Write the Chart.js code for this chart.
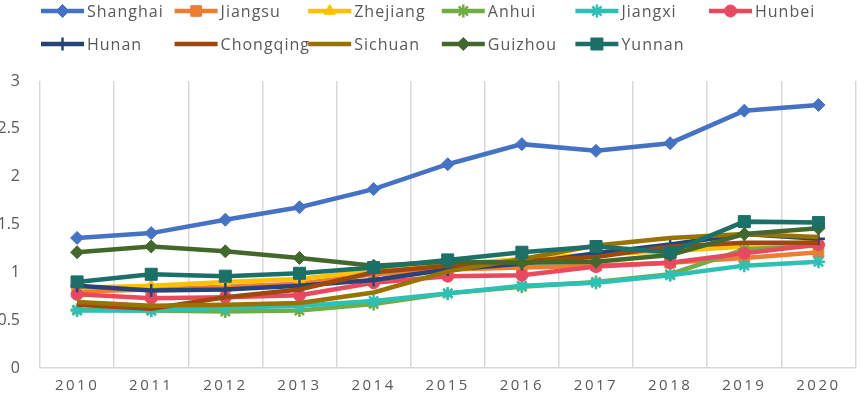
<!DOCTYPE html>
<html>
<head>
<meta charset="utf-8">
<script src="https://cdn.jsdelivr.net/npm/chart.js@4.4.1/dist/chart.umd.min.js"></script>
<style>
  html, body { margin: 0; padding: 0; background: #fff; }
  #wrap { width: 865px; height: 395px; }
</style>
</head>
<body>
<div id="wrap"><canvas id="myChart" width="865" height="395"></canvas></div>
<script>
// years on the x axis
const years = ['2010', '2011', '2012', '2013', '2014', '2015', '2016', '2017', '2018', '2019', '2020'];

// values
const shanghai  = [1.36, 1.41, 1.55, 1.68, 1.87, 2.13, 2.34, 2.27, 2.35, 2.69, 2.75];
const jiangsu   = [0.80, 0.82, 0.85, 0.88, 0.98, 1.03, 1.05, 1.07, 1.10, 1.15, 1.21];
const zhejiang  = [0.84, 0.86, 0.90, 0.93, 1.02, 1.08, 1.14, 1.19, 1.22, 1.27, 1.32];
const anhui     = [0.61, 0.60, 0.59, 0.60, 0.67, 0.78, 0.85, 0.90, 0.98, 1.24, 1.28];
const jiangxi   = [0.60, 0.60, 0.63, 0.65, 0.70, 0.78, 0.86, 0.89, 0.97, 1.07, 1.11];
const hunbei    = [0.77, 0.73, 0.74, 0.76, 0.89, 0.96, 0.97, 1.06, 1.10, 1.20, 1.29];
const hunan     = [0.86, 0.81, 0.82, 0.86, 0.92, 1.03, 1.09, 1.20, 1.29, 1.40, 1.35];
const chongqing = [0.66, 0.62, 0.74, 0.82, 1.00, 1.07, 1.12, 1.16, 1.27, 1.31, 1.31];
const sichuan   = [0.69, 0.65, 0.66, 0.68, 0.79, 1.01, 1.14, 1.28, 1.36, 1.40, 1.37];
const guizhou   = [1.21, 1.27, 1.22, 1.15, 1.07, 1.11, 1.10, 1.11, 1.18, 1.40, 1.46];
const yunnan    = [0.90, 0.98, 0.96, 0.99, 1.05, 1.13, 1.21, 1.27, 1.21, 1.53, 1.52];

const seriesNames = ['Shanghai', 'Jiangsu', 'Zhejiang', 'Anhui', 'Jiangxi', 'Hunbei',
                     'Hunan', 'Chongqing', 'Sichuan', 'Guizhou', 'Yunnan'];
const seriesData = [shanghai, jiangsu, zhejiang, anhui, jiangxi, hunbei,
                    hunan, chongqing, sichuan, guizhou, yunnan];
const seriesColors = ['#4472C4', '#ED7D31', '#FFC000', '#70AD47', '#2DC0B4', '#E9495F',
                      '#264478', '#9E480E', '#997300', '#43682B', '#1B7068'];
const seriesMarkers = ['rectRot', 'rect', 'triangle', 'star', 'star', 'circle',
                       'cross', false, false, 'rectRot', 'rect'];
const markerSizes = [6.5, 7.5, 6.5, 6.5, 6.5, 6, 6.5, 0, 0, 6.5, 8.5];

const textColor = '#595959';

const datasets = seriesNames.map((name, i) => ({
    label: name,
    data: seriesData[i],
    borderColor: seriesColors[i],
    backgroundColor: seriesColors[i],
    borderWidth: 4.5,
    pointStyle: seriesMarkers[i],
    pointRadius: seriesMarkers[i] ? markerSizes[i] : 0,
    pointBorderWidth: (seriesMarkers[i] === 'star' || seriesMarkers[i] === 'cross') ? 2.5 : 1,
    pointBorderColor: seriesColors[i],
    pointBackgroundColor: seriesColors[i],
    tension: 0,
    order: seriesNames.length - i   // later series on top, like the original
}));

// legend in fixed columns, two rows
const gridLegend = {
    id: 'gridLegend',
    afterDraw(chart) {
        const ctx = chart.ctx;
        ctx.save();
        ctx.letterSpacing = '1px';
        ctx.font = '16px "Open Sans"';
        ctx.textBaseline = 'middle';
        seriesNames.forEach((name, i) => {
            const col = i % 6;
            const row = Math.floor(i / 6);
            const x = 41 + col * 133.6;
            const y = 11 + row * 33;
            ctx.strokeStyle = seriesColors[i];
            ctx.lineWidth = 4.5;
            ctx.beginPath();
            ctx.moveTo(x, y);
            ctx.lineTo(x + 43, y);
            ctx.stroke();
            if (seriesMarkers[i]) {
                ctx.fillStyle = seriesColors[i];
                ctx.lineWidth = datasets[i].pointBorderWidth;
                Chart.helpers.drawPoint(ctx, {
                    pointStyle: seriesMarkers[i],
                    radius: markerSizes[i],
                    rotation: 0,
                    borderWidth: datasets[i].pointBorderWidth
                }, x + 21.5, y);
            }
            ctx.fillStyle = textColor;
            ctx.fillText(name, x + 46, y + 1);
        });
        ctx.restore();
    }
};

const ctx = document.getElementById('myChart').getContext('2d');
new Chart(ctx, {
    type: 'line',
    data: { labels: years, datasets: datasets },
    options: {
        responsive: false,
        animation: false,
        layout: { padding: { top: 81, left: 0, right: 1, bottom: 0 } },
        plugins: {
            legend: { display: false },
            tooltip: { enabled: false }
        },
        scales: {
            x: {
                offset: true,
                grid: { offset: true, color: '#D9D9D9', lineWidth: 1.5, drawTicks: false },
                border: { color: '#D9D9D9', width: 1.5 },
                ticks: { color: textColor, font: { family: 'Open Sans', size: 15 }, padding: 9, maxRotation: 0 },
                afterFit(scale) {
                    scale.height = 27;
                    // year labels are spaced out in the original
                    if (!scale._spaced) {
                        const drawLabels = scale.drawLabels.bind(scale);
                        scale.drawLabels = function (area) {
                            this.ctx.save();
                            this.ctx.letterSpacing = '2.5px';
                            drawLabels(area);
                            this.ctx.restore();
                        };
                        scale._spaced = true;
                    }
                }
            },
            y: {
                min: 0,
                max: 3,
                grid: { display: false },
                border: { display: false },
                ticks: {
                    stepSize: 0.5,
                    color: textColor,
                    font: { family: 'Open Sans', size: 16 },
                    padding: 12,
                    callback: v => String(v)
                },
                afterFit(scale) { scale.width = 40; }
            }
        }
    },
    plugins: [gridLegend]
});
</script>
</body>
</html>
